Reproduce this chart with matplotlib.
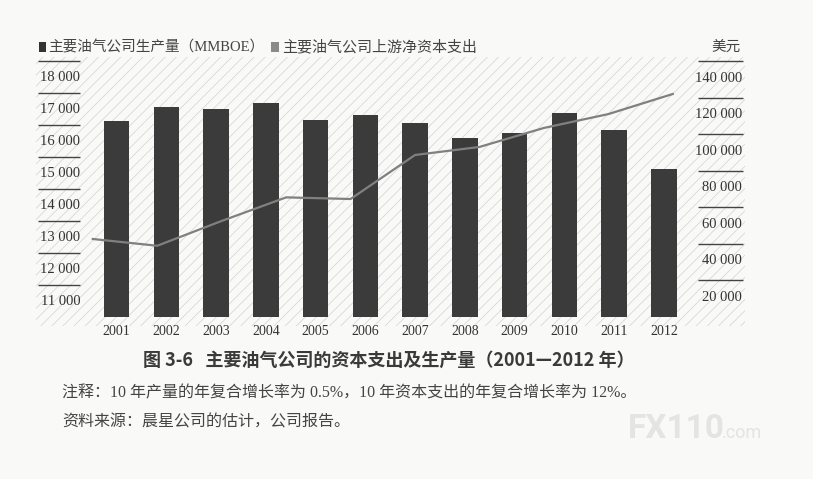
import matplotlib
matplotlib.use("Agg")
import matplotlib.pyplot as plt
import numpy as np
from matplotlib.patches import Rectangle
from matplotlib.transforms import ScaledTranslation

# 数据
years = ["2001", "2002", "2003", "2004", "2005", "2006",
         "2007", "2008", "2009", "2010", "2011", "2012"]
production = [16130, 16560, 16480, 16690, 16150, 16300,
              16050, 15600, 15750, 16380, 15840, 14630]
capex = [42700, 39000, 52600, 65500, 64600, 88700,
         93100, 103500, 111100, 122100]

left_ticks = [11000, 12000, 13000, 14000, 15000, 16000, 17000, 18000]
left_labels = ["11 000", "12 000", "13 000", "14 000", "15 000", "16 000", "17 000", "18 000"]
right_ticks = [20000, 40000, 60000, 80000, 100000, 120000, 140000]
right_labels = ["20 000", "40 000", "60 000", "80 000", "100 000", "120 000", "140 000"]

W, H = 813, 479


def fx(x):
    return x / W


def fy(y):
    return 1 - y / H


plt.rcParams["hatch.linewidth"] = 0.5
serif = ["Liberation Serif", "Noto Sans CJK SC"]
cjk = ["Noto Sans CJK SC", "DejaVu Sans"]

fig = plt.figure(figsize=(W / 100, H / 100), dpi=100, facecolor="#f9f9f8")

# 背景斜线纹理（放在坐标轴下面）
fig.patches.append(Rectangle((fx(36), fy(326)), fx(745) - fx(36), fy(57) - fy(326),
                             transform=fig.transFigure, facecolor="none",
                             edgecolor="#d2d2d2", hatch="///", linewidth=0, zorder=-1))

ax = fig.add_axes([fx(85), fy(317), fx(690) - fx(85), fy(58) - fy(317)])
ax.set_facecolor("none")
ax2 = ax.twinx()

x = np.arange(len(years))
ax.bar(x, production, width=0.51, color="#3b3b3b", zorder=3, bottom=0)
ax.set_ylim(10000, 18084)
ax.set_xlim(-0.637, 11.526)

xl = np.linspace(-0.48, 11.18, len(capex))
ax2.plot(xl, capex, color="#808080", lw=1.6, zorder=4)
ax2.set_ylim(0, 141800)

for a in (ax, ax2):
    for s in a.spines.values():
        s.set_visible(False)
    a.set_yticks([])

ax.set_xticks(x)
ax.set_xticklabels(years, family=serif, fontsize=10, color="#333333")
ax.tick_params(axis="x", length=0, pad=6)

off = ScaledTranslation(0, -17 / 100, fig.dpi_scale_trans)
ty = ax.get_yaxis_transform()
ty2 = ax2.get_yaxis_transform()
ax.hlines(left_ticks, -0.0777, -0.0083, transform=ty, colors="#444444", lw=1, clip_on=False)
for v, lab in zip(left_ticks, left_labels):
    ax.text(-0.008, v, lab, transform=ty + off, ha="right", va="center",
            family=serif, fontsize=10.5, color="#333333")
ax2.hlines(right_ticks, 1.0132, 1.0876, transform=ty2, colors="#444444", lw=1, clip_on=False)
for v, lab in zip(right_ticks, right_labels):
    ax2.text(1.086, v, lab, transform=ty2 + off, ha="right", va="center",
             family=serif, fontsize=10.5, color="#333333")

# 图例
fig.patches.append(Rectangle((fx(39), fy(52)), fx(7), 10 / H, transform=fig.transFigure,
                             facecolor="#333333", edgecolor="none"))
fig.text(fx(48), fy(47), "主要油气公司生产量（MMBOE）", family=serif, fontsize=10.5,
         color="#444444", va="center")
fig.patches.append(Rectangle((fx(271), fy(52)), fx(8), 10 / H, transform=fig.transFigure,
                             facecolor="#8a8a8a", edgecolor="none"))
fig.text(fx(282), fy(47), "主要油气公司上游净资本支出", family=cjk, fontsize=10.8,
         color="#444444", va="center")
fig.text(fx(741), fy(47), "美元", family=cjk, fontsize=10.5, color="#444444",
         va="center", ha="right")

# 标题和注释
fig.text(fx(389), fy(360), "图 3-6   主要油气公司的资本支出及生产量（2001—2012 年）",
         family=cjk, fontsize=13, weight="bold", color="#3a3a3a", ha="center", va="center")
fig.text(fx(62), fy(393), "注释：10 年产量的年复合增长率为 0.5%，10 年资本支出的年复合增长率为 12%。",
         family=serif, fontsize=11.5, color="#444444", va="center")
fig.text(fx(62), fy(422), "资料来源：晨星公司的估计，公司报告。",
         family=serif, fontsize=11.5, color="#444444", va="center")

# 水印
fig.text(fx(628), fy(429), "FX110", family=["Roboto"], fontsize=24, weight="bold",
         color="#e4e4e4", va="center")
fig.text(fx(722), fy(433), ".com", family=["Roboto"], fontsize=13,
         color="#e4e4e4", va="center")

fig.savefig("out.png", dpi=100, facecolor=fig.get_facecolor())
